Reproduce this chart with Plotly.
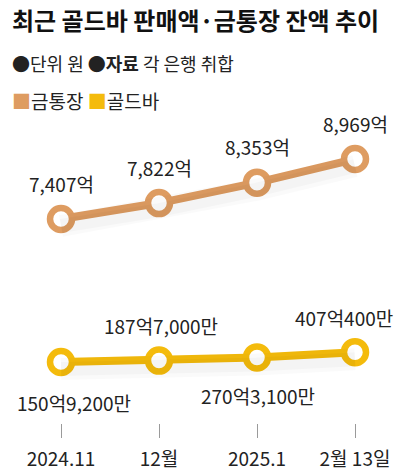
import plotly.graph_objects as go

categories = ["2024.11", "12월", "2025.1", "2월 13일"]
bank_values = [7407, 7822, 8353, 8969]          # 금통장 (억 원)
bar_values = [150.92, 187.70, 270.31, 407.04]   # 골드바 (억 원)
bank_labels = ["7,407억", "7,822억", "8,353억", "8,969억"]
bar_labels = ["150억9,200만", "187억7,000만", "270억3,100만", "407억400만"]

W, H = 404, 476
FONT = "Noto Sans CJK KR"
TAN = "#DE9C61"
YEL = "#F4BB0C"
TXT = "#222222"

xs = list(range(len(categories)))

fig = go.Figure()

# soft shadows (drawn on axes shifted a few px down)
for vals, ax in ((bank_values, "y3"), (bar_values, "y4")):
    for w, a in ((22, 0.018), (14, 0.025)):
        fig.add_trace(go.Scatter(x=xs, y=vals, mode="lines", yaxis=ax,
                                 line=dict(color=f"rgba(0,0,0,{a})", width=w),
                                 hoverinfo="skip", showlegend=False))

def add_series(vals, color, yaxis):
    fig.add_trace(go.Scatter(
        x=xs, y=vals, mode="lines+markers", yaxis=yaxis,
        line=dict(color=color, width=8),
        marker=dict(size=22, color="white", line=dict(color=color, width=6.5)),
        showlegend=False, hoverinfo="skip"))

add_series(bank_values, TAN, "y")
add_series(bar_values, YEL, "y2")

for i, (v, t) in enumerate(zip(bank_values, bank_labels)):
    fig.add_annotation(x=xs[i], y=v, xref="x", yref="y", text=t, showarrow=False,
                       yshift=36, font=dict(family=FONT, size=19, color=TXT))
bar_shift = [-40, 35, -38, 35]
bar_xshift = [13, 2, 1, -11]
for i, (v, t) in enumerate(zip(bar_values, bar_labels)):
    fig.add_annotation(x=xs[i], y=v, xref="x", yref="y2", text=t, showarrow=False,
                       yshift=bar_shift[i], xshift=bar_xshift[i],
                       font=dict(family=FONT, size=19, color=TXT))

fig.add_annotation(x=10 / W, y=1 - 20 / H, xref="paper", yref="paper", xanchor="left", yanchor="middle",
                   text="<b>최근 골드바 판매액·금통장 잔액 추이</b>", showarrow=False,
                   font=dict(family=FONT, size=24, color="#111111"))
fig.add_annotation(x=10 / W, y=1 - 63 / H, xref="paper", yref="paper", xanchor="left", yanchor="middle",
                   text="●단위 원 ●<b>자료</b> 각 은행 취합", showarrow=False,
                   font=dict(family=FONT, size=18, color=TXT))
fig.add_annotation(x=10 / W, y=1 - 100 / H, xref="paper", yref="paper", xanchor="left", yanchor="middle",
                   text=f"<span style='color:{TAN}'>■</span>금통장 <span style='color:{YEL}'>■</span>골드바",
                   showarrow=False, font=dict(family=FONT, size=19, color=TXT))

ppu = 0.0384  # px per 억
def yrange(v0, p0, top, bottom):
    return [v0 - (bottom - p0) / ppu, v0 + (p0 - top) / ppu]

def dom(top, bottom, shift=0):
    return [1 - (bottom + shift) / H, 1 - (top + shift) / H]

r1 = yrange(bank_values[0], 219, 110, 265)
r2 = yrange(bar_values[0], 362, 290, 423)
SH = 7
x0px, step = 61, 98
fig.update_layout(
    width=W, height=H,
    margin=dict(l=0, r=0, t=0, b=0),
    paper_bgcolor="white", plot_bgcolor="rgba(0,0,0,0)",
    xaxis=dict(range=[-x0px / step, (W - x0px) / step], tickvals=xs, ticktext=categories,
               showgrid=False, zeroline=False, showline=False,
               ticks="outside", ticklen=14, tickwidth=1, tickcolor="#9a9a9a",
               ticklabelstandoff=5,
               anchor="free", position=1 - 423 / H,
               tickfont=dict(family=FONT, size=19, color=TXT), fixedrange=True),
    yaxis=dict(domain=dom(110, 265), range=r1, visible=False, fixedrange=True),
    yaxis2=dict(domain=dom(290, 423), range=r2, visible=False, fixedrange=True),
    yaxis3=dict(domain=dom(110, 265, SH), range=r1, visible=False, fixedrange=True),
    yaxis4=dict(domain=dom(290, 423, SH), range=r2, visible=False, fixedrange=True),
    font=dict(family=FONT),
)

fig.write_html("out.html", post_script="document.body.style.margin='0';",
               config={"displayModeBar": False})
